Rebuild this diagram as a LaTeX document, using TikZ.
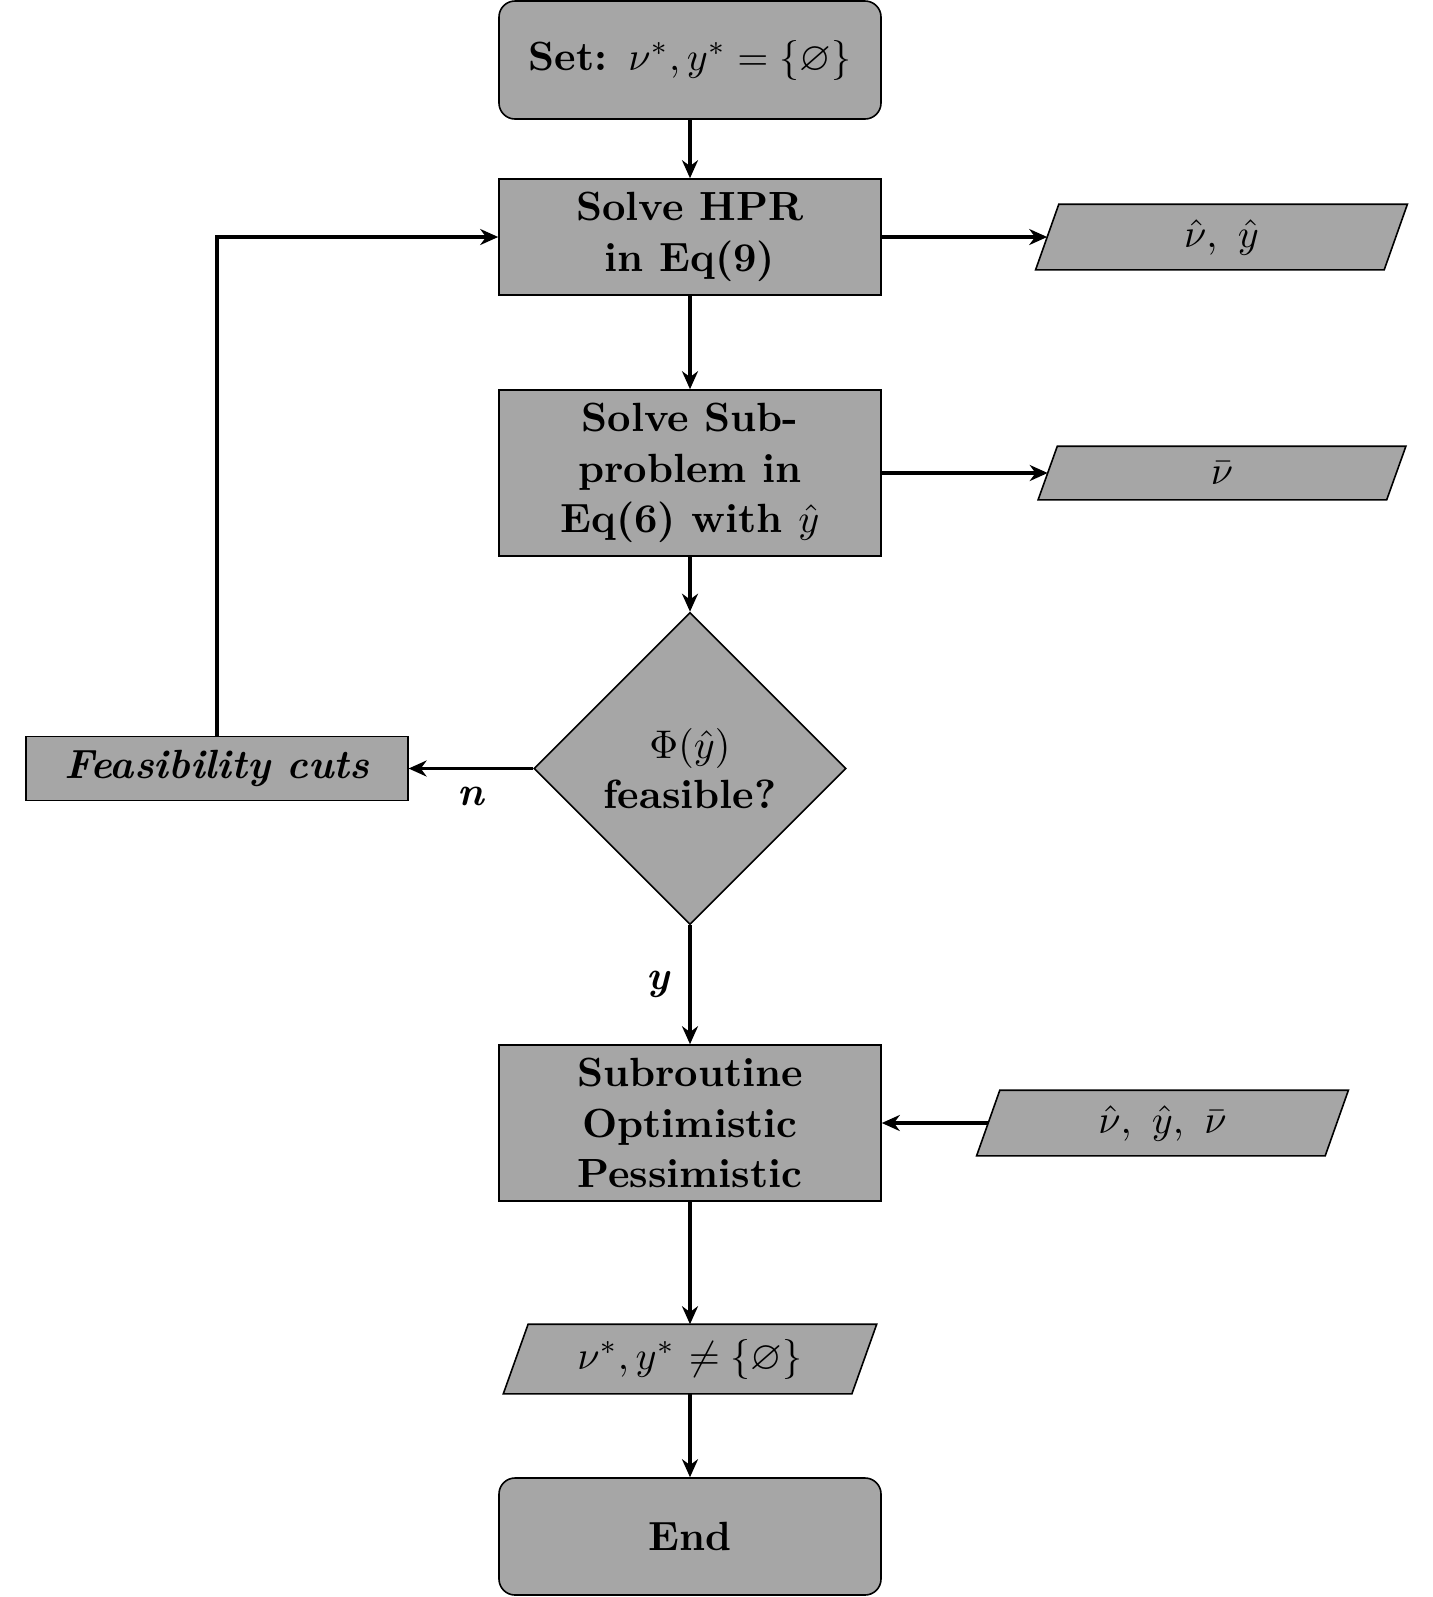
\documentclass[tikz,border=0pt]{standalone}
\usepackage{amssymb}
\usepackage{fontspec}
\usetikzlibrary{shapes.geometric,arrows.meta,backgrounds}
\begin{document}
\begin{tikzpicture}[x=0.25pt,y=-0.25pt,
  basefont/.style={font=\fontsize{10.2}{12.6}\selectfont},
  shapebase/.style={draw,line width=0.4pt,fill=black!35,align=center,inner sep=2pt,
    font=\fontsize{10.2}{12.6}\selectfont\bfseries},
  procbox/.style={shapebase,rectangle,minimum width=95.5pt},
  termbox/.style={procbox,rounded corners=4pt},
  decbox/.style={shapebase,diamond,minimum width=78pt,minimum height=78pt,inner sep=0pt},
  iobox/.style={rectangle,minimum width=86.75pt,inner sep=0pt,align=center,basefont},
  ioshape/.style={draw,line width=0.4pt,fill=black!35},
  flowarrow/.style={line width=0.8pt,-{Stealth[length=4.5pt,width=4pt]}},
  branch/.style={font=\fontsize{10.2}{12.6}\selectfont\bfseries\itshape}
]
\useasboundingbox (0,0) rectangle (1433,1597);

% main column
\node[termbox,minimum height=29.5pt] (set) at (690,60) {Set: $\nu^*, y^* = \{\varnothing\}$};
\node[procbox,minimum height=29pt] (hpr) at (690,237) {Solve HPR\\in Eq(9)};
\node[procbox,minimum height=41.5pt] (sub) at (690,473) {Solve Sub-\\problem in\\Eq(6) with $\hat{y}$};
\node[decbox] (dia) at (690,768.5) {$\Phi(\hat{y})$\\feasible?};
\node[procbox,minimum height=39pt] (subr) at (690,1123) {Subroutine\\Optimistic\\Pessimistic};
\node[iobox,minimum height=17pt] (out) at (690,1359) {$\nu^*, y^*$ $\neq \{\varnothing\}$};
\node[termbox,minimum height=29.25pt] (end) at (690,1536.5) {End};

% side nodes
\node[procbox,minimum width=95.4pt,minimum height=16pt,font=\fontsize{10.2}{12.6}\selectfont\bfseries\itshape]
  (fc) at (217,768.5) {Feasibility cuts};
\node[iobox,minimum height=16pt] (pa) at (1221.5,237) {$\hat{\nu},\ \hat{y}$};
\node[iobox,minimum height=13pt] (pb) at (1222,473) {$\bar{\nu}$};
\node[iobox,minimum height=16pt] (pc) at (1162.5,1123) {$\hat{\nu},\ \hat{y},\ \bar{\nu}$};

% slanted data boxes behind their texts
\begin{scope}[on background layer]
  \foreach \k/\s in {pa/2.9pt,pb/2.4pt,pc/2.9pt,out/3.1pt}{
    \draw[ioshape] ([xshift=\s]\k.north west) -- ([xshift=\s]\k.north east)
      -- ([xshift=-\s]\k.south east) -- ([xshift=-\s]\k.south west) -- cycle;
  }
\end{scope}

% connectors
\draw[flowarrow] (set) -- (hpr);
\draw[flowarrow] (hpr.east) -- (pa.west);
\draw[flowarrow] (hpr) -- (sub);
\draw[flowarrow] (sub.east) -- (pb.west);
\draw[flowarrow] (sub) -- (dia);
\draw[flowarrow] (dia.west) -- node[below=1pt,branch] {n} (fc.east);
\draw[flowarrow] (fc.north) |- (hpr.west);
\draw[flowarrow] (dia.south) -- node[left=1.5pt,branch] {y} (subr.north);
\draw[flowarrow] (pc.west) -- (subr.east);
\draw[flowarrow] (subr) -- (out);
\draw[flowarrow] (out) -- (end);
\end{tikzpicture}
\end{document}
